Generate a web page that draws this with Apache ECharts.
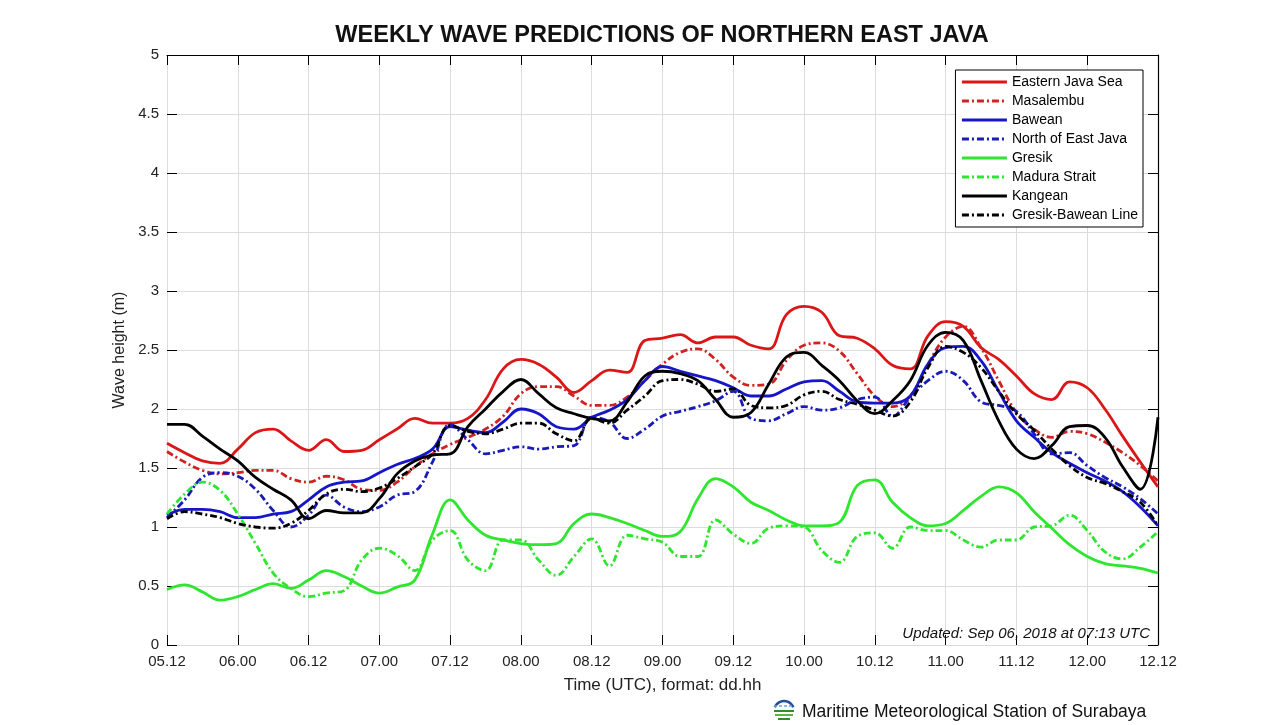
<!DOCTYPE html>
<html>
<head>
<meta charset="utf-8">
<title>Weekly Wave Predictions of Northern East Java</title>
<script src="https://cdn.jsdelivr.net/npm/echarts@6/dist/echarts.min.js"></script>
<style>
html, body { margin: 0; padding: 0; background: #fff; }
#chart { width: 1280px; height: 725px; }
</style>
</head>
<body>
<div id="chart"></div>
<script>
// hours since 05.12 UTC, one point every 3 hours
const hours = [0, 3, 6, 9, 12, 15, 18, 21, 24, 27, 30, 33, 36, 39, 42, 45, 48, 51, 54,
    57, 60, 63, 66, 69, 72, 75, 78, 81, 84, 87, 90, 93, 96, 99, 102, 105, 108,
    111, 114, 117, 120, 123, 126, 129, 132, 135, 138, 141, 144, 147, 150, 153, 156, 159, 162, 165, 168]

const tickLabels = ['05.12', '06.00', '06.12', '07.00', '07.12', '08.00', '08.12', '09.00',
    '09.12', '10.00', '10.12', '11.00', '11.12', '12.00', '12.12']

// wave height (m)
const easternJavaSea = [1.71, 1.63, 1.56, 1.54, 1.66, 1.80, 1.83, 1.73, 1.65, 1.74, 1.64, 1.65, 1.74, 1.83, 1.92, 1.88, 1.88, 1.92, 2.08,
    2.34, 2.42, 2.38, 2.27, 2.14, 2.24, 2.33, 2.31, 2.58, 2.60, 2.63, 2.56, 2.61, 2.61, 2.54, 2.51, 2.80, 2.87,
    2.82, 2.62, 2.60, 2.51, 2.37, 2.34, 2.62, 2.74, 2.70, 2.52, 2.42, 2.28, 2.13, 2.08, 2.23, 2.18, 2.00, 1.77, 1.55, 1.34]
const masalembu = [1.64, 1.55, 1.48, 1.45, 1.46, 1.48, 1.48, 1.41, 1.38, 1.43, 1.40, 1.32, 1.31, 1.38, 1.51, 1.62, 1.70, 1.76, 1.83,
    1.94, 2.13, 2.19, 2.19, 2.11, 2.03, 2.03, 2.10, 2.24, 2.38, 2.48, 2.51, 2.42, 2.27, 2.20, 2.21, 2.41, 2.54,
    2.56, 2.49, 2.30, 2.11, 2.02, 2.11, 2.38, 2.61, 2.70, 2.52, 2.24, 1.97, 1.83, 1.76, 1.81, 1.79, 1.72, 1.63, 1.52, 1.39]
const bawean = [1.10, 1.15, 1.15, 1.13, 1.08, 1.08, 1.11, 1.13, 1.23, 1.34, 1.38, 1.39, 1.46, 1.53, 1.58, 1.66, 1.85, 1.82, 1.80,
    1.89, 2.00, 1.96, 1.85, 1.83, 1.93, 1.99, 2.08, 2.24, 2.36, 2.32, 2.28, 2.24, 2.18, 2.11, 2.11, 2.17, 2.23,
    2.24, 2.15, 2.06, 2.05, 2.05, 2.11, 2.38, 2.52, 2.53, 2.41, 2.15, 1.90, 1.76, 1.63, 1.54, 1.46, 1.39, 1.30, 1.17, 1.01]
const northEastJava = [1.08, 1.23, 1.42, 1.46, 1.43, 1.32, 1.14, 1.00, 1.10, 1.27, 1.17, 1.13, 1.17, 1.27, 1.30, 1.55, 1.87, 1.74, 1.62,
    1.65, 1.68, 1.66, 1.68, 1.69, 1.93, 1.89, 1.75, 1.83, 1.94, 1.98, 2.02, 2.07, 2.15, 1.92, 1.90, 1.96, 2.02,
    1.99, 2.01, 2.08, 2.10, 1.94, 2.10, 2.24, 2.32, 2.24, 2.06, 2.03, 1.98, 1.79, 1.62, 1.63, 1.52, 1.42, 1.34, 1.24, 1.11]
const gresik = [0.47, 0.51, 0.45, 0.38, 0.41, 0.47, 0.52, 0.48, 0.55, 0.63, 0.58, 0.50, 0.44, 0.49, 0.55, 0.94, 1.23, 1.06, 0.93,
    0.89, 0.86, 0.85, 0.86, 1.03, 1.11, 1.08, 1.03, 0.97, 0.92, 0.96, 1.24, 1.41, 1.34, 1.21, 1.14, 1.06, 1.01,
    1.01, 1.04, 1.35, 1.40, 1.21, 1.08, 1.01, 1.03, 1.14, 1.26, 1.34, 1.29, 1.13, 0.99, 0.85, 0.75, 0.69, 0.67, 0.65, 0.61]
const maduraStrait = [1.11, 1.28, 1.38, 1.31, 1.11, 0.86, 0.61, 0.48, 0.41, 0.44, 0.46, 0.72, 0.82, 0.76, 0.63, 0.89, 0.97, 0.72, 0.63,
    0.89, 0.89, 0.72, 0.59, 0.75, 0.90, 0.67, 0.93, 0.90, 0.87, 0.75, 0.75, 1.06, 0.94, 0.86, 0.99, 1.01, 1.00,
    0.80, 0.70, 0.92, 0.95, 0.82, 1.00, 0.97, 0.97, 0.89, 0.83, 0.89, 0.89, 1.00, 1.01, 1.10, 0.97, 0.79, 0.73, 0.83, 0.96]
const kangean = [1.87, 1.87, 1.77, 1.66, 1.56, 1.42, 1.32, 1.23, 1.07, 1.14, 1.12, 1.12, 1.24, 1.45, 1.56, 1.61, 1.62, 1.85, 2.00,
    2.15, 2.25, 2.13, 2.01, 1.96, 1.92, 1.90, 2.06, 2.28, 2.32, 2.30, 2.24, 2.08, 1.93, 1.97, 2.21, 2.44, 2.48,
    2.37, 2.24, 2.07, 1.96, 2.07, 2.24, 2.54, 2.65, 2.58, 2.24, 1.90, 1.66, 1.58, 1.69, 1.85, 1.86, 1.76, 1.51, 1.32, 1.93]
const gresikBaweanLine = [1.07, 1.13, 1.11, 1.08, 1.03, 1.00, 0.99, 1.03, 1.14, 1.28, 1.32, 1.30, 1.33, 1.41, 1.51, 1.62, 1.86, 1.81, 1.79,
    1.83, 1.88, 1.88, 1.79, 1.73, 1.92, 1.88, 1.99, 2.11, 2.24, 2.25, 2.21, 2.15, 2.17, 2.03, 2.01, 2.03, 2.12,
    2.15, 2.08, 2.04, 1.99, 1.94, 2.06, 2.35, 2.53, 2.48, 2.35, 2.15, 1.96, 1.82, 1.66, 1.52, 1.42, 1.37, 1.30, 1.21, 1.01]

const FONT = '"Liberation Sans", Arial, Helvetica, sans-serif'
const dashDot = [7, 3, 2, 3]

function pairs(values) {
    return values.map((v, i) => [hours[i], v])
}

function line(name, values, color, dashed) {
    return {
        name: name,
        type: 'line',
        data: pairs(values),
        smooth: 0.4,
        symbol: 'none',
        xAxisIndex: 0,
        yAxisIndex: 0,
        lineStyle: {
            color: color,
            width: 2.8,
            type: dashed ? dashDot : 'solid'
        },
        itemStyle: { color: color }
    }
}

const chart = echarts.init(document.getElementById('chart'), null, { renderer: 'canvas' })

chart.setOption({
    animation: false,
    backgroundColor: '#fff',
    textStyle: { fontFamily: FONT },
    grid: {
        left: 167,
        right: 122,
        top: 55,
        bottom: 80
    },
    legend: {
        orient: 'vertical',
        right: 137,
        top: 70,
        itemWidth: 45,
        itemHeight: 14,
        itemGap: 5,
        padding: [5, 5, 5, 5],
        backgroundColor: '#fff',
        borderColor: '#000',
        borderWidth: 1,
        itemStyle: { opacity: 0 },
        lineStyle: { width: 3 },
        textStyle: { fontSize: 14, lineHeight: 14, color: '#000', fontFamily: FONT },
        data: ['Eastern Java Sea', 'Masalembu', 'Bawean', 'North of East Java',
            'Gresik', 'Madura Strait', 'Kangean', 'Gresik-Bawean Line']
    },
    xAxis: [{
        type: 'value',
        min: 0,
        max: 168,
        interval: 12,
        position: 'bottom',
        name: 'Time (UTC), format: dd.hh',
        nameLocation: 'middle',
        nameGap: 32,
        nameTextStyle: { fontSize: 17, color: '#222' },
        axisLine: { show: false, onZero: false },
        axisTick: { show: true, inside: true, length: 10, lineStyle: { color: '#000' } },
        axisLabel: {
            fontSize: 15,
            color: '#222',
            margin: 9,
            formatter: v => tickLabels[Math.round(v / 12)]
        },
        splitLine: { show: true, lineStyle: { color: '#dcdcdc', width: 1 } }
    }, {
        type: 'value',
        min: 0,
        max: 168,
        interval: 12,
        position: 'top',
        axisLine: { show: true, onZero: false, lineStyle: { color: '#000', width: 1.2 } },
        axisTick: { show: true, inside: true, length: 10, lineStyle: { color: '#000' } },
        axisLabel: { show: false },
        splitLine: { show: false }
    }],
    yAxis: [{
        type: 'value',
        min: 0,
        max: 5,
        interval: 0.5,
        position: 'left',
        name: 'Wave height (m)',
        nameLocation: 'middle',
        nameGap: 35,
        nameTextStyle: { fontSize: 16, color: '#222' },
        axisLine: { show: false, onZero: false },
        axisTick: { show: true, inside: true, length: 10, lineStyle: { color: '#000' } },
        axisLabel: { fontSize: 15, color: '#222', margin: 8 },
        splitLine: { show: true, lineStyle: { color: '#dcdcdc', width: 1 } }
    }, {
        type: 'value',
        min: 0,
        max: 5,
        interval: 0.5,
        position: 'right',
        axisLine: { show: true, onZero: false, lineStyle: { color: '#000', width: 1.2 } },
        axisTick: { show: true, inside: true, length: 10, lineStyle: { color: '#000' } },
        axisLabel: { show: false },
        splitLine: { show: false }
    }],
    graphic: [
        {
            type: 'text',
            x: 662,
            y: 36,
            style: {
                text: 'WEEKLY WAVE PREDICTIONS OF NORTHERN EAST JAVA',
                font: 'bold 23.5px ' + FONT,
                fill: '#111',
                textAlign: 'center',
                textVerticalAlign: 'middle'
            }
        },
        {
            type: 'text',
            x: 1150,
            y: 634,
            z: 100,
            style: {
                text: 'Updated: Sep 06, 2018 at 07:13 UTC',
                font: 'italic 15px ' + FONT,
                fill: '#111',
                textAlign: 'right',
                textVerticalAlign: 'middle'
            }
        },
        {
            type: 'text',
            x: 802,
            y: 712,
            style: {
                text: 'Maritime Meteorological Station of Surabaya',
                font: '17.5px ' + FONT,
                fill: '#111',
                textAlign: 'left',
                textVerticalAlign: 'middle'
            }
        },
        // station logo
        {
            type: 'group',
            children: [
                { type: 'arc', shape: { cx: 784, cy: 711, r: 10, startAngle: Math.PI * 1.12, endAngle: Math.PI * 1.88 },
                  style: { stroke: '#1f4f9c', lineWidth: 2.5, fill: null } },
                { type: 'line', shape: { x1: 774, y1: 706, x2: 794, y2: 706 },
                  style: { stroke: '#6f9fd4', lineWidth: 1.5, lineDash: [3, 2] } },
                { type: 'line', shape: { x1: 774, y1: 711, x2: 794, y2: 711 },
                  style: { stroke: '#2e8b2e', lineWidth: 2 } },
                { type: 'line', shape: { x1: 775, y1: 715, x2: 793, y2: 715 },
                  style: { stroke: '#58b43a', lineWidth: 2 } },
                { type: 'line', shape: { x1: 778, y1: 719, x2: 790, y2: 719 },
                  style: { stroke: '#2e8b2e', lineWidth: 2 } }
            ]
        }
    ],
    series: [
        line('Eastern Java Sea', easternJavaSea, '#dc1616', false),
        line('Masalembu', masalembu, '#d02222', true),
        line('Bawean', bawean, '#1616c8', false),
        line('North of East Java', northEastJava, '#1a1ab8', true),
        line('Gresik', gresik, '#2ee62e', false),
        line('Madura Strait', maduraStrait, '#2ee62e', true),
        line('Kangean', kangean, '#000000', false),
        line('Gresik-Bawean Line', gresikBaweanLine, '#000000', true)
    ]
})
</script>
</body>
</html>
